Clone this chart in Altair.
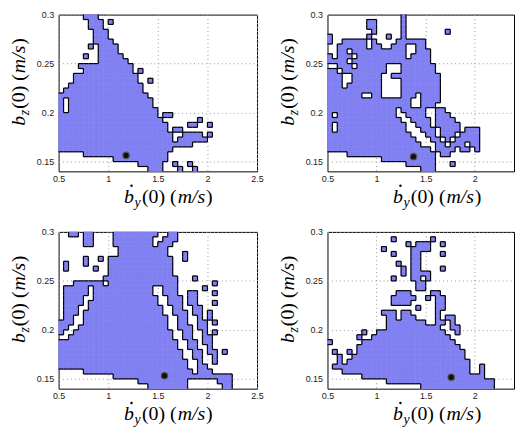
import altair as alt
import pandas as pd

# grid of the sampled region maps
X0 = 0.5
DX = 0.05
YTOP = 0.30
YBOT = 0.14
DY = 0.005

LEFT_XTICKS = [0.5, 1, 1.5, 2, 2.5]
RIGHT_XTICKS = [0.5, 1, 1.5, 2]
YTICKS = [0.15, 0.2, 0.25, 0.3]

# blue cells per row (top row first), given as (first column, last column) runs
TL_RUNS = [
    [(5, 7)],
    [(6, 8), (10, 10)],
    [(6, 8)],
    [(7, 9)],
    [(7, 9)],
    [(7, 10)],
    [(6, 6), (8, 11)],
    [(8, 11)],
    [(5, 5), (8, 12)],
    [(8, 13)],
    [(4, 14)],
    [(5, 14), (16, 16)],
    [(3, 15)],
    [(3, 15), (18, 18)],
    [(2, 16)],
    [(1, 16)],
    [(0, 17)],
    [(0, 0), (2, 18)],
    [(0, 0), (2, 18)],
    [(0, 0), (2, 19)],
    [(0, 19), (21, 22)],
    [(0, 20), (28, 28)],
    [(0, 21), (26, 27), (30, 30)],
    [(0, 21), (23, 24)],
    [(0, 22), (25, 28), (30, 30)],
    [(0, 22), (24, 29)],
    [(0, 26)],
    [(0, 22)],
    [(5, 21)],
    [(11, 21)],
    [(16, 20), (23, 23), (26, 26)],
    [(18, 20), (24, 24), (27, 27)],
]

TR_RUNS = [
    [(15, 15)],
    [(8, 9), (15, 15)],
    [(8, 9), (15, 15)],
    [(9, 9), (15, 15), (24, 24)],
    [(0, 0), (8, 8), (12, 12), (15, 15)],
    [(0, 0), (3, 7), (9, 9), (14, 19)],
    [(2, 7), (9, 10), (13, 15), (18, 19)],
    [(2, 3), (5, 15), (18, 20)],
    [(0, 0), (2, 4), (6, 15), (17, 20)],
    [(0, 3), (5, 20)],
    [(2, 4), (6, 11), (15, 21)],
    [(0, 1), (3, 11), (15, 21)],
    [(0, 2), (5, 10), (13, 22)],
    [(0, 2), (5, 10), (15, 22)],
    [(0, 2), (4, 10), (15, 22)],
    [(0, 10), (15, 22)],
    [(0, 6), (9, 10), (15, 17), (19, 22)],
    [(0, 16), (19, 22)],
    [(0, 16), (19, 21)],
    [(0, 13), (15, 19), (22, 23)],
    [(0, 0), (2, 13), (16, 19), (22, 24)],
    [(0, 14), (17, 20), (22, 25)],
    [(0, 0), (2, 15), (18, 20), (22, 26)],
    [(0, 0), (2, 15), (19, 21), (23, 26), (28, 30)],
    [(0, 16), (20, 21), (23, 25), (27, 30)],
    [(0, 17), (21, 22), (24, 24), (26, 30)],
    [(0, 18), (22, 23), (25, 27), (29, 30)],
    [(0, 20), (22, 25), (27, 28), (30, 30)],
    [(4, 21), (23, 24)],
    [(11, 21)],
    [(16, 21), (25, 25)],
    [(19, 21)],
]

BL_RUNS = [
    [(2, 3), (5, 6), (11, 19), (22, 23)],
    [(5, 6), (11, 18), (21, 23)],
    [(5, 6), (11, 18), (20, 22)],
    [(12, 21)],
    [(12, 21), (25, 25)],
    [(5, 5), (8, 8), (10, 22), (25, 25)],
    [(1, 1), (5, 5), (10, 22)],
    [(1, 1), (7, 7), (10, 22)],
    [(10, 22)],
    [(9, 23), (27, 27)],
    [(3, 8), (10, 23), (31, 31)],
    [(1, 5), (7, 18), (21, 23), (29, 29)],
    [(1, 5), (7, 18), (21, 23), (26, 27), (31, 31)],
    [(1, 4), (7, 19), (22, 24), (26, 27)],
    [(1, 4), (6, 19), (22, 24), (26, 27), (31, 31)],
    [(1, 3), (6, 20), (23, 24), (27, 28)],
    [(1, 3), (5, 20), (23, 25), (27, 28), (30, 30)],
    [(1, 2), (5, 21), (24, 25), (28, 28), (30, 30)],
    [(0, 2), (5, 21), (24, 25), (28, 29), (31, 31)],
    [(0, 1), (4, 21), (24, 26), (28, 29)],
    [(0, 0), (3, 22), (25, 26), (29, 29), (31, 31)],
    [(2, 22), (25, 26), (29, 30)],
    [(0, 23), (26, 27), (29, 30)],
    [(0, 23), (26, 27), (30, 30)],
    [(0, 24), (27, 28), (30, 31), (33, 33)],
    [(0, 24), (27, 28), (31, 31)],
    [(0, 25), (28, 28), (31, 31)],
    [(0, 25), (28, 29)],
    [(5, 26), (28, 30)],
    [(11, 34)],
    [(16, 25), (32, 34)],
    [(18, 25), (33, 34)],
]

BR_RUNS = [
    [],
    [(13, 13), (21, 21)],
    [(16, 16), (18, 20), (23, 23)],
    [(11, 11), (17, 20)],
    [(13, 13), (17, 18), (23, 23)],
    [(17, 18)],
    [(14, 14), (17, 18)],
    [(15, 15), (17, 18), (23, 23)],
    [(15, 15), (17, 20)],
    [(13, 13), (17, 18), (20, 20)],
    [(18, 19)],
    [(18, 19)],
    [(14, 16), (21, 22)],
    [(13, 17), (20, 20), (22, 23)],
    [(13, 16), (22, 23)],
    [(18, 18), (22, 23)],
    [(11, 11), (12, 13), (15, 16), (22, 22)],
    [(12, 13), (15, 17), (22, 22), (24, 25)],
    [(12, 19), (22, 23), (25, 25)],
    [(12, 22), (25, 26)],
    [(7, 7), (10, 23), (26, 26)],
    [(6, 6), (9, 24)],
    [(0, 0), (7, 25)],
    [(6, 26)],
    [(1, 1), (4, 4), (6, 27)],
    [(2, 2), (5, 27)],
    [(2, 2), (4, 28)],
    [(1, 28), (31, 31)],
    [(3, 28), (31, 31)],
    [(7, 31)],
    [(12, 33)],
    [(19, 33)],
]

# initial condition markers (b_y dot, b_z)
MARK_TL = (1.18, 0.1563)
MARK_TR = (1.376, 0.155)
MARK_BL = (1.567, 0.1532)
MARK_BR = (1.76, 0.1517)

BLUE = "#8080F2"
W_LEFT = 200
W_RIGHT = 188
H = 158
SERIF = "Liberation Serif, DejaVu Serif, serif"


def build_mask(runs, ncols):
    mask = []
    for row in runs:
        m = [0] * ncols
        for a, b in row:
            for c in range(a, b + 1):
                if 0 <= c < ncols:
                    m[c] = 1
        mask.append(m)
    return mask


def cells_df(mask):
    recs = []
    for r, row in enumerate(mask):
        for c, v in enumerate(row):
            if v:
                recs.append(dict(x0=X0 + c * DX, x1=X0 + (c + 1) * DX,
                                 y0=YTOP - (r + 1) * DY, y1=YTOP - r * DY))
    return pd.DataFrame(recs)


def edges_df(mask):
    recs = []
    n = len(mask)
    m = len(mask[0])
    for r in range(n):
        for c in range(m):
            v = mask[r][c]
            if c + 1 < m and mask[r][c + 1] != v:
                x = X0 + (c + 1) * DX
                recs.append(dict(xa=x, xb=x, ya=YTOP - (r + 1) * DY, yb=YTOP - r * DY))
            if r + 1 < n and mask[r + 1][c] != v:
                y = YTOP - (r + 1) * DY
                recs.append(dict(xa=X0 + c * DX, xb=X0 + (c + 1) * DX, ya=y, yb=y))
    return pd.DataFrame(recs)


ONE = pd.DataFrame({"k": [0]})


def piece(t, px, py, fs, ang, italic):
    kw = dict(align="left", baseline="alphabetic", font=SERIF, fontSize=fs,
              angle=ang, text=t, color="black")
    if italic:
        kw["fontStyle"] = "italic"
    return alt.Chart(ONE).mark_text(**kw).encode(x=alt.value(px), y=alt.value(py))


def title_layers():
    xb = H + 32
    accent = alt.Chart(ONE).mark_circle(size=6, color="black", opacity=1).encode(
        x=alt.value(73.5), y=alt.value(xb - 17.5))
    return [
        # x title: b-dot_y(0) (m/s)
        piece("b", 66, xb, 20, 0, True),
        accent,
        piece("y", 76.5, xb + 4, 14, 0, True),
        piece("(0) (", 84, xb, 20, 0, False),
        piece("m/s", 120, xb, 20, 0, True),
        piece(")", 148.5, xb, 20, 0, False),
        # y title: b_z(0) (m/s), rotated
        piece("b", -34, 112, 20, 270, True),
        piece("z", -30, 101.5, 14, 270, True),
        piece("(0) (", -34, 95, 20, 270, False),
        piece("m/s", -34, 59, 20, 270, True),
        piece(")", -34, 30.5, 20, 270, False),
    ]


def panel(runs, ncols, xticks, W, marker):
    xmax = X0 + ncols * DX
    mask = build_mask(runs, ncols)
    xs = alt.Scale(domain=[X0, xmax], nice=False, zero=False)
    ys = alt.Scale(domain=[YBOT, YTOP], nice=False, zero=False)
    xaxis = alt.Axis(values=xticks, format="~g", title=None, grid=True,
                     labelFlush=False, labelOverlap=False)
    yaxis = alt.Axis(values=YTICKS, format="~g", title=None, grid=True,
                     labelOverlap=False)
    rect = alt.Chart(cells_df(mask)).mark_rect(color=BLUE, stroke=BLUE, strokeWidth=0.6).encode(
        x=alt.X("x0:Q", scale=xs, axis=xaxis),
        x2="x1:Q",
        y=alt.Y("y0:Q", scale=ys, axis=yaxis),
        y2="y1:Q",
    )
    rules = alt.Chart(edges_df(mask)).mark_rule(color="black", strokeWidth=1.2).encode(
        x=alt.X("xa:Q", scale=xs, axis=xaxis), x2="xb:Q",
        y=alt.Y("ya:Q", scale=ys, axis=yaxis), y2="yb:Q",
    )
    dot = alt.Chart(pd.DataFrame({"bx": [marker[0]], "bz": [marker[1]]})).mark_circle(
        size=42, color="#111", opacity=1, stroke="#555", strokeWidth=1.2
    ).encode(
        x=alt.X("bx:Q", scale=xs, axis=xaxis),
        y=alt.Y("bz:Q", scale=ys, axis=yaxis),
    )
    return alt.layer(rect, rules, dot, *title_layers()).properties(width=W, height=H)


tl = panel(TL_RUNS, 40, LEFT_XTICKS, W_LEFT, MARK_TL)
tr = panel(TR_RUNS, 38, RIGHT_XTICKS, W_RIGHT, MARK_TR)
bl = panel(BL_RUNS, 40, LEFT_XTICKS, W_LEFT, MARK_BL)
br = panel(BR_RUNS, 38, RIGHT_XTICKS, W_RIGHT, MARK_BR)

chart = alt.vconcat(
    alt.hconcat(tl, tr, spacing=13),
    alt.hconcat(bl, br, spacing=13),
    spacing=16,
).properties(padding=0).configure_view(
    stroke="black", strokeWidth=1
).configure_axis(
    labelFont="Liberation Sans", labelFontSize=9, labelColor="#222",
    ticks=False, domain=False, gridColor="#999", gridDash=[1, 3],
    gridOpacity=1, gridWidth=1,
).configure_axisX(labelPadding=3).configure_axisY(labelPadding=5)

chart.save("out.html", embed_options={"renderer": "svg", "actions": False})
